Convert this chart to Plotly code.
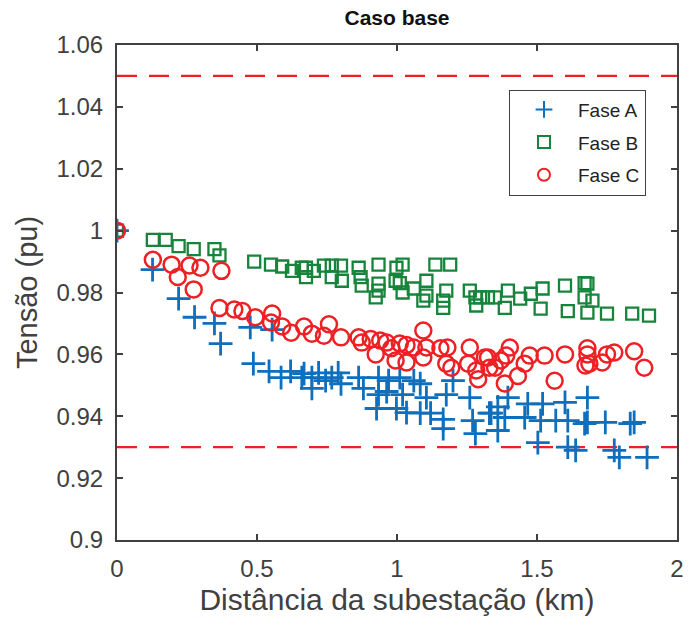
import plotly.graph_objects as go

# Distance from the substation (km) and per-unit voltage for each phase
dist_a = [0, 0.127, 0.22, 0.277, 0.348, 0.37, 0.476, 0.554, 0.487, 0.543, 0.586, 0.62, 0.66,
          0.668, 0.696, 0.696, 0.72, 0.745, 0.767, 0.79, 0.80, 0.863, 0.88, 0.934, 0.934, 0.927,
          0.97, 0.963, 0.998, 1.01, 1.06, 1.083, 1.02, 1.105, 1.034, 1.083, 1.12, 1.176, 1.165,
          1.165, 1.2, 1.26, 1.27, 1.28, 1.33, 1.336, 1.36, 1.396, 1.385, 1.36, 1.456, 1.467,
          1.52, 1.513, 1.503, 1.567, 1.6, 1.61, 1.61, 1.638, 1.67, 1.68, 1.68, 1.744, 1.833,
          1.847, 1.776, 1.794, 1.893]
volt_a = [1.0, 0.9874, 0.978, 0.972, 0.970, 0.9635, 0.9687, 0.968, 0.957, 0.9545, 0.9525, 0.9545,
          0.9525, 0.9538, 0.9525, 0.949, 0.954, 0.9515, 0.9525, 0.954, 0.9505, 0.9525, 0.949,
          0.9525, 0.947, 0.9425, 0.9515, 0.948, 0.9425, 0.9525, 0.9515, 0.9505, 0.947, 0.946,
          0.9412, 0.941, 0.941, 0.947, 0.939, 0.936, 0.9515, 0.946, 0.9386, 0.9344, 0.941,
          0.941, 0.943, 0.946, 0.9396, 0.9354, 0.9396, 0.944, 0.944, 0.9386, 0.9315, 0.9386,
          0.9445, 0.9386, 0.930, 0.929, 0.9376, 0.946, 0.938, 0.938, 0.9376, 0.938, 0.929,
          0.9267, 0.9267]

dist_b = [0, 0.128, 0.174, 0.22, 0.274, 0.348, 0.366, 0.49, 0.55, 0.59, 0.625, 0.66, 0.675,
          0.703, 0.675, 0.739, 0.767, 0.8, 0.803, 0.767, 0.863, 0.87, 0.874, 0.934, 0.934,
          0.934, 0.924, 0.998, 0.995, 1.02, 1.01, 1.02, 1.06, 1.105, 1.137, 1.19, 1.105,
          1.094, 1.176, 1.165, 1.165, 1.26, 1.28, 1.297, 1.325, 1.283, 1.35, 1.396, 1.385,
          1.44, 1.478, 1.52, 1.513, 1.6, 1.61, 1.67, 1.67, 1.68, 1.698, 1.68, 1.75, 1.84, 1.9]
volt_b = [1.0, 0.997, 0.997, 0.995, 0.994, 0.994, 0.992, 0.990, 0.989, 0.9884, 0.987, 0.988,
          0.988, 0.987, 0.985, 0.9887, 0.9887, 0.9887, 0.9838, 0.985, 0.988, 0.985, 0.9822,
          0.989, 0.9829, 0.9806, 0.9784, 0.988, 0.9838, 0.989, 0.983, 0.980, 0.9813, 0.9838,
          0.989, 0.989, 0.979, 0.9774, 0.9806, 0.9774, 0.975, 0.9806, 0.9784, 0.9784, 0.9784,
          0.9758, 0.9784, 0.9806, 0.975, 0.978, 0.9796, 0.9813, 0.9748, 0.9822, 0.974, 0.983,
          0.9784, 0.9829, 0.9774, 0.9735, 0.9732, 0.9732, 0.9725]

dist_c = [0, 0.128, 0.195, 0.217, 0.259, 0.298, 0.274, 0.373, 0.366, 0.419, 0.448, 0.494, 0.554,
          0.55, 0.59, 0.622, 0.668, 0.696, 0.757, 0.739, 0.8, 0.863, 0.874, 0.906, 0.924, 0.94,
          0.963, 0.98, 0.995, 1.094, 1.01, 1.034, 1.06, 1.034, 1.094, 1.105, 1.155, 1.18,
          1.176, 1.194, 1.26, 1.254, 1.283, 1.29, 1.314, 1.33, 1.325, 1.35, 1.371, 1.403, 1.39,
          1.385, 1.432, 1.456, 1.474, 1.527, 1.563, 1.6, 1.68, 1.673, 1.68, 1.687, 1.733, 1.75,
          1.776, 1.847, 1.883]
volt_c = [1.0, 0.9906, 0.989, 0.985, 0.9887, 0.988, 0.981, 0.987, 0.975, 0.9745, 0.974, 0.972,
          0.9732, 0.9703, 0.969, 0.967, 0.969, 0.9667, 0.9697, 0.966, 0.9655, 0.9655, 0.9638,
          0.965, 0.960, 0.9645, 0.9638, 0.962, 0.958, 0.9677, 0.9635, 0.963, 0.9622, 0.9574,
          0.959, 0.9622, 0.962, 0.9622, 0.957, 0.9557, 0.9622, 0.957, 0.9548, 0.952, 0.959,
          0.9557, 0.959, 0.9557, 0.958, 0.9622, 0.9596, 0.9506, 0.953, 0.957, 0.9596, 0.9596,
          0.9515, 0.960, 0.960, 0.9564, 0.962, 0.957, 0.9574, 0.960, 0.9606, 0.961, 0.9557]

# Voltage limits (pu)
v_max = 1.05
v_min = 0.93

y_ticks = [0.9, 0.92, 0.94, 0.96, 0.98, 1.0, 1.02, 1.04, 1.06]
y_tick_text = ["0.9", "0.92", "0.94", "0.96", "0.98", "1", "1.02", "1.04", "1.06"]
x_ticks = [0, 0.5, 1, 1.5, 2]
x_tick_text = ["0", "0.5", "1", "1.5", "2"]

BLUE = "#0f6fbd"
GREEN = "#16843a"
RED = "#ee2024"
AXIS = "#404040"
FONT = "Liberation Sans, Arial, sans-serif"

fig = go.Figure()

fig.add_trace(go.Scatter(
    x=dist_a, y=volt_a, mode="markers", name="Fase A", legendgroup="a",
    marker=dict(symbol="cross-thin", size=17, color=BLUE,
                line=dict(color=BLUE, width=2.8)),
))
fig.add_trace(go.Scatter(
    x=dist_b, y=volt_b, mode="markers", name="Fase B", legendgroup="b",
    marker=dict(symbol="square-open", size=12, color=GREEN,
                line=dict(color=GREEN, width=2.3)),
))
fig.add_trace(go.Scatter(
    x=dist_c, y=volt_c, mode="markers", name="Fase C", legendgroup="c",
    marker=dict(symbol="circle-open", size=16, color=RED,
                line=dict(color=RED, width=2.5)),
))

# Dashed limit lines
for v in (v_max, v_min):
    fig.add_shape(type="line", xref="x", yref="y", x0=0, x1=2, y0=v, y1=v,
                  line=dict(color=RED, width=2.2, dash="20px,12px"), layer="below")

fig.update_layout(
    width=689, height=626,
    margin=dict(l=117, r=5, t=45, b=86),
    paper_bgcolor="white", plot_bgcolor="white",
    font=dict(family=FONT, color=AXIS, size=18),
    showlegend=True,
    title=dict(text="<b>Caso base</b>", x=0.5, xref="paper", xanchor="center",
               y=1 - 18 / 626, yref="container", yanchor="middle",
               font=dict(family=FONT, size=21, color="#111111")),
    legend=dict(x=0.70, y=0.91, xanchor="left", yanchor="top",
                bgcolor="white", bordercolor=AXIS, borderwidth=1,
                font=dict(family=FONT, size=19, color="#222222"),
                itemsizing="constant", itemwidth=58, tracegroupgap=5),
    xaxis=dict(range=[0, 2], tickvals=x_ticks, ticktext=x_tick_text,
               showgrid=False, zeroline=False, showline=True, linecolor=AXIS,
               linewidth=2, mirror="ticks", ticks="inside", ticklen=6,
               tickcolor=AXIS, tickwidth=1.5, ticklabelstandoff=6,
               ticklabeloverflow="allow",
               tickfont=dict(size=24, color=AXIS),
               title=dict(text="Distância da subestação (km)",
                          font=dict(size=30, color=AXIS), standoff=8)),
    yaxis=dict(range=[0.9, 1.06], tickvals=y_ticks, ticktext=y_tick_text,
               showgrid=False, zeroline=False, showline=True, linecolor=AXIS,
               linewidth=2, mirror="ticks", ticks="inside", ticklen=6,
               tickcolor=AXIS, tickwidth=1.5, ticklabelstandoff=7,
               tickfont=dict(size=24, color=AXIS),
               title=dict(text="Tensão (pu)", font=dict(size=29, color=AXIS),
                          standoff=10)),
)

fig.write_html("out.html")
